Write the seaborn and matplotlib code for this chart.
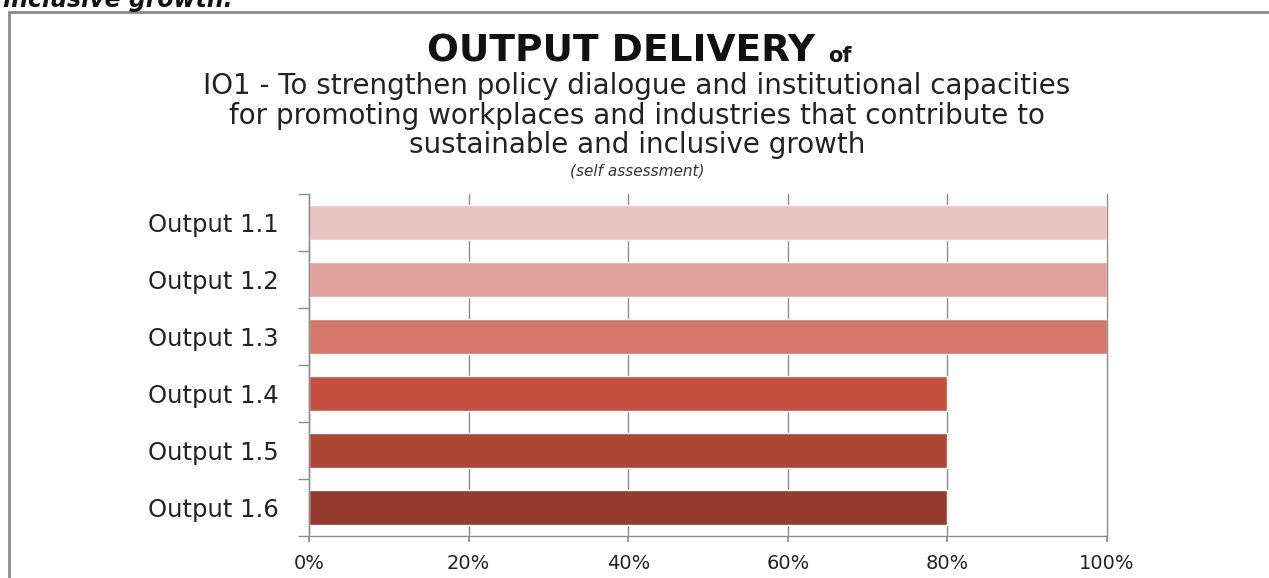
import matplotlib
matplotlib.use("Agg")
import matplotlib.pyplot as plt
import matplotlib.patches as mpatches
from matplotlib.ticker import FixedLocator, PercentFormatter
import seaborn as sns
import pandas as pd

categories = ["Output 1.1", "Output 1.2", "Output 1.3", "Output 1.4", "Output 1.5", "Output 1.6"]
values = [100, 100, 100, 80, 80, 80]
colors = ["#E8C3C0", "#E0A19B", "#D4766A", "#C5503E", "#AE4635", "#963B30"]
xticks = [0, 20, 40, 60, 80, 100]

sns.set_theme(style="white")
plt.rcParams["font.family"] = ["DejaVu Sans"]

df = pd.DataFrame({"output": categories, "value": values})

fig = plt.figure(figsize=(12.69, 5.78), dpi=100)
ax = fig.add_axes([309/1269, 1-536/578, (1107-309)/1269, (536-194)/578])

sns.barplot(data=df, x="value", y="output", hue="output", palette=colors,
            orient="h", width=0.63, legend=False, ax=ax, saturation=1)

ax.set_xlim(0, 100)
ax.set_ylim(5.5, -0.5)
ax.set_xlabel("")
ax.set_ylabel("")
ax.xaxis.set_major_locator(FixedLocator(xticks))
ax.xaxis.set_major_formatter(PercentFormatter(decimals=0))
ax.grid(axis="x", color="#8c8c8c", linewidth=1.0)
ax.set_axisbelow(True)
for gl in ax.get_xgridlines():
    gl.set_clip_on(False)
for s in ["top", "right"]:
    ax.spines[s].set_visible(False)
for s in ["left", "bottom"]:
    ax.spines[s].set_color("#8c8c8c")
    ax.spines[s].set_linewidth(1.0)

ax.tick_params(axis="x", which="major", length=4, color="#8c8c8c", direction="out",
               labelsize=14, pad=9, labelcolor="#222222", bottom=True)
ax.tick_params(axis="y", which="major", length=0, labelsize=17.5, pad=22, labelcolor="#222222")
ax.yaxis.set_minor_locator(FixedLocator([i - 0.5 for i in range(len(categories) + 1)]))
ax.tick_params(axis="y", which="minor", length=8, color="#8c8c8c", direction="out", left=True)

# Border box
fig.patches.append(mpatches.Rectangle((9/1269, -0.1), 1.2, 1 - 12/578 + 0.1,
                                      transform=fig.transFigure, fill=False,
                                      edgecolor="#8a8a8a", linewidth=2))

# Cut-off caption above the box
fig.text(0.002, 1 - 7/578, "inclusive growth.", fontsize=17, fontweight="bold",
         fontstyle="italic", va="baseline", ha="left", color="#111111")

# Title
fig.text(621/1269, 1 - 62/578, "OUTPUT DELIVERY", fontsize=27, fontweight="bold",
         va="baseline", ha="center", color="#111111")
fig.text(828/1269, 1 - 62/578, "of", fontsize=15, fontweight="bold",
         va="baseline", ha="left", color="#111111")
sub = ["IO1 - To strengthen policy dialogue and institutional capacities",
       "for promoting workplaces and industries that contribute to",
       "sustainable and inclusive growth"]
for i, line in enumerate(sub):
    fig.text(637/1269, 1 - (94 + 29.5*i)/578, line, fontsize=20,
             va="baseline", ha="center", color="#222222")
fig.text(637/1269, 1 - 175/578, "(self assessment)", fontsize=11, fontstyle="italic",
         va="baseline", ha="center", color="#333333")

fig.savefig("out.png", dpi=100)
